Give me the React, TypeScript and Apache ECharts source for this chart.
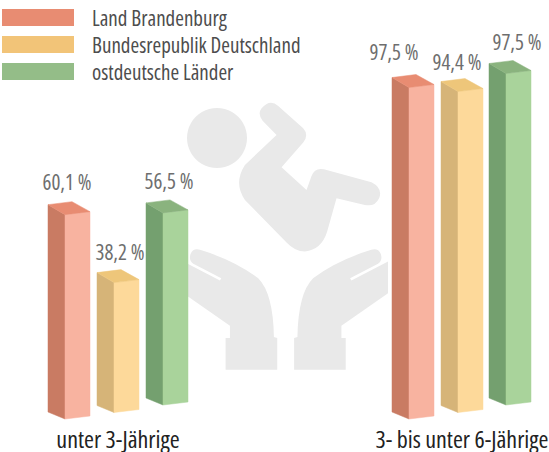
import React, { useEffect, useRef } from "react";
import * as echarts from "echarts";

const categories = ["unter 3-Jährige", "3- bis unter 6-Jährige"];
const seriesNames = ["Land Brandenburg", "Bundesrepublik Deutschland", "ostdeutsche Länder"];
const brandenburg = [60.1, 97.5];
const deutschland = [38.2, 94.4];
const ostdeutsch = [56.5, 97.5];

const FONT = "'Open Sans', sans-serif";

echarts.graphic.registerShape("baby", echarts.graphic.extendPath(
  "M275 55 Q300 25 325 48 L400 115 Q418 135 400 158 L335 232 L410 300 L425 258 Q435 232 462 238 L605 277 Q640 295 628 325 Q615 352 585 345 L500 325 L472 425 Q455 480 405 485 Q375 485 350 458 L225 330 Q190 280 225 225 L320 135 L278 92 Q262 72 275 55 Z", {}));
echarts.graphic.registerShape("hand", echarts.graphic.extendPath(
  "M62 492 Q70 474 90 480 Q190 510 265 565 Q310 610 312 742 L322 745 L322 840 L167 840 L167 745 L180 745 L180 708 L40 610 L40 515 L150 572 L154 565 L70 522 Q55 510 62 492 Z", {}));

const styles = [
  { legend: "#e88c72", cap: "#e88c72", side: "#c97b63", front: "#f8b3a0", shift: 0, labelDx: [-2, -19], labelDy: [20, 23] },
  { legend: "#f2c478", cap: "#eec67a", side: "#d6b478", front: "#fdd99a", shift: 6.5, labelDx: [2, -5], labelDy: [18, 17] },
  { legend: "#94bd88", cap: "#8ab37e", side: "#74a06f", front: "#a9d39b", shift: 14, labelDx: [2, 7], labelDy: [19, 19] },
];
const slots = [-70, -21, 28];
const slotsRight = [-70, -21, 27];

function makeSeries(name: string, values: number[], idx: number) {
  const st = styles[idx];
  return {
    type: "custom",
    name,
    itemStyle: { color: st.legend },
    data: values.map((v, i) => [i, v]),
    renderItem: (_p: any, api: any) => {
      const cat = api.value(0);
      const val = api.value(1);
      const base = api.coord([cat, 0]);
      const h = api.size([0, val])[1];
      const left = base[0] + (cat === 0 ? slots[idx] : slotsRight[idx]);
      const edge = left + 17;
      const right = left + 42;
      const yb = base[1] - st.shift;
      const poly = (pts: number[][], fill: string) => ({
        type: "polygon",
        shape: { points: pts },
        style: { fill, stroke: fill, lineWidth: 0.5 },
      });
      const L = 7, R = 3, K = 13;
      return {
        type: "group",
        children: [
          poly([[left, yb - L], [edge, yb], [edge, yb - h], [left, yb - h - 10]], st.side),
          poly([[edge, yb], [right, yb - R], [right, yb - h - R], [edge, yb - h]], st.front),
          poly([[left, yb - h - 10], [left + 24, yb - h - K], [right, yb - h - R], [edge, yb - h]], st.cap),
          {
            type: "text",
            x: left + 21 + st.labelDx[cat],
            y: yb - h - K - st.labelDy[cat],
            style: {
              text: val.toFixed(1).replace(".", ",") + " %",
              fill: "#6e6e6e",
              fontSize: 21,
              fontFamily: FONT,
              align: "center",
              verticalAlign: "middle",
            },
          },
        ],
      };
    },
  };
}

export default function App() {
  const ref = useRef<HTMLDivElement>(null);
  useEffect(() => {
    const chart = echarts.init(ref.current!, null, { renderer: "svg" });
    const T = { scaleX: 1 / 3, scaleY: 1 / 3 };
    const gray = { fill: "#e9e9e9" };
    chart.setOption({
      animation: false,
      backgroundColor: "#ffffff",
      grid: { left: 118, right: 87, top: 45, bottom: 33, outerBoundsMode: "none" },
      xAxis: {
        type: "category",
        data: categories,
        boundaryGap: false,
        axisLine: { show: false },
        axisTick: { show: false },
        splitLine: { show: false },
        axisLabel: { color: "#222222", fontSize: 24, fontFamily: FONT, margin: 7, interval: 0, hideOverlap: false },
      },
      yAxis: { type: "value", min: 0, max: 110, show: false, splitLine: { show: false } },
      legend: {
        orient: "vertical",
        left: 2,
        top: 7,
        padding: 0,
        itemWidth: 72,
        itemHeight: 17,
        itemGap: 6,
        icon: "rect",
        data: seriesNames,
        selectedMode: false,
        textStyle: { color: "#4d4d4d", fontSize: 21, fontFamily: FONT, padding: [0, 0, 2, 13] },
      },
      graphic: [
        { type: "circle", z: -10, shape: { cx: 217, cy: 138, r: 30 }, style: gray },
        { type: "baby", z: -10, x: 170, y: 90, ...T, style: gray },
        { type: "hand", z: -10, x: 170, y: 90, ...T, style: gray },
        { type: "hand", z: -10, x: 170 + 694 / 3, y: 90, scaleX: -1 / 3, scaleY: 1 / 3, style: gray },
      ],
      series: [
        makeSeries(seriesNames[0], brandenburg, 0),
        makeSeries(seriesNames[1], deutschland, 1),
        makeSeries(seriesNames[2], ostdeutsch, 2),
      ],
    });
    return () => chart.dispose();
  }, []);
  return (
    <>
      <style>{`svg text { font-stretch: 75% !important; }`}</style>
      <div ref={ref} style={{ position: "absolute", left: 0, top: 0, width: 549, height: 452 }} />
    </>
  );
}
